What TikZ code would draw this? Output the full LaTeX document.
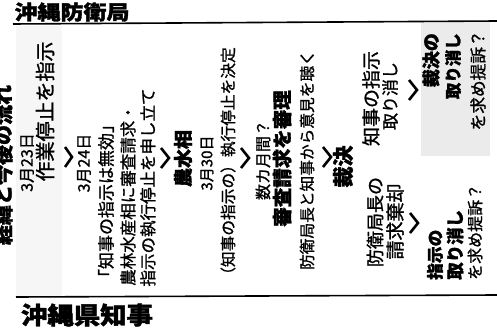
\documentclass[tikz,border=0pt]{standalone}
\usepackage{fontspec}
\newfontfamily\jp[FakeBold=1.2]{Noto Sans CJK JP}
\newfontfamily\jpb[FakeBold=1.5]{Noto Sans CJK JP}
\tikzset{
  tx/.style={rotate=90, inner sep=0pt, font=\jp\fontsize{#1}{#1}\selectfont},
  tb/.style={rotate=90, inner sep=0pt, font=\jpb\bfseries\fontsize{#1}{#1}\selectfont},
  hd/.style={inner sep=0pt, font=\jpb\bfseries\fontsize{#1}{#1}\selectfont},
  chev/.style={line width=2.6pt, line join=miter},
  rule/.style={line width=1.6pt},
}
\begin{document}
\begin{tikzpicture}[x=1pt,y=-1pt]
\useasboundingbox (0,0) rectangle (497,331);
\clip (0,0) rectangle (497,331);
% screened areas
\fill[gray!7] (16,26) rectangle (62,298);
\fill[gray!16] (421,22) rectangle (490,156);
% rules
\draw[rule] (13,24) -- (497,21);
\draw[rule] (16,297) -- (497,295);
% headers
\node[hd=20, xscale=1.15] (hdtop) at (72,12) {沖縄防衛局};
\node[hd=24, xscale=1.1] (hdbot) at (87,315) {沖縄県知事};
\node[tb=20] (title) at (3,165) {経緯と今後の流れ};
% step 1
\node[tx=16] (d1) at (27,162.5) {3月23日};
\node[tx=20] (a1) at (45,111.5) {作業停止を指示};
\draw[chev] (65,147) -- (72,157) -- (65,167);
% step 2
\node[tx=16] (d2) at (84,163) {3月24日};
\node[tx=17] (b1) at (106,201) {「知事の指示は無効」};
\node[tx=16.5] (b2) at (128,195) {農林水産相に審査請求・};
\node[tx=16.5] (b3) at (148,187.5) {指示の執行停止を申し立て};
\draw[chev] (161,148) -- (169,158) -- (161,168);
% step 3
\node[tb=19] (c1) at (183,158.5) {農水相};
\node[tx=15] (c2) at (207,163) {3月30日};
\node[tx=15.7] (c3) at (228,165) {（知事の指示の）執行停止を決定};
\draw[chev] (241,148) -- (249,158) -- (241,168);
% step 4
\node[tx=16] (e1) at (263,160) {数カ月間？};
\node[tb=19.5] (e2) at (282,158.5) {審査請求を審理};
\node[tx=15.7] (e3) at (307,160) {防衛局長と知事から意見を聴く};
\draw[chev] (323,147) -- (331,157) -- (323,167);
% step 5
\node[tb=21] (f1) at (343,166.5) {裁決};
\node[tx=19] (g1) at (371,98.5) {知事の指示};
\node[tx=17] (g2) at (390,96) {取り消し};
\draw[chev] (409,80) -- (417,90) -- (409,100);
\node[tb=18, anchor=east] (h1) at (431,33) {裁決の};
\node[tb=16.5, anchor=east] (h2) at (453,33) {取り消し};
\node[tx=16.7, anchor=east] (h3) at (478,30) {を求め提訴？};
\node[tx=18] (k1) at (375,222) {防衛局長の};
\node[tx=19] (k2) at (395,221.5) {請求棄却};
\draw[chev] (410,213) -- (418,223) -- (410,233);
\node[tb=16.7, anchor=west] (m1) at (435,280) {指示の};
\node[tb=17.5, anchor=west] (m2) at (455,280) {取り消し};
\node[tx=16, anchor=west] (m3) at (475,280) {を求め提訴？};
\end{tikzpicture}
\end{document}
